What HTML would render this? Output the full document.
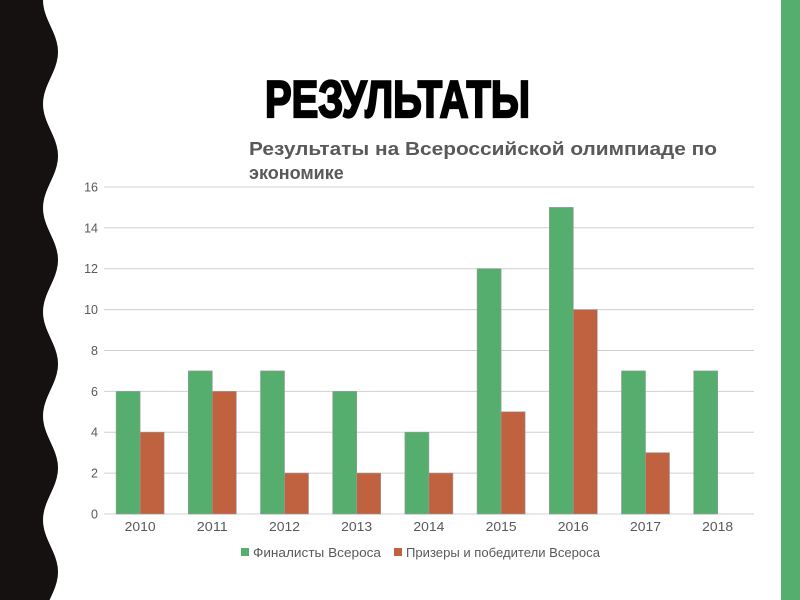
<!DOCTYPE html>
<html><head><meta charset="utf-8"><style>
html,body{margin:0;padding:0;background:#fff;width:800px;height:600px;overflow:hidden}
</style></head><body>
<svg width="800" height="600" xmlns="http://www.w3.org/2000/svg" font-family="Liberation Sans, sans-serif">
<rect width="800" height="600" fill="#fff"/>
<path id="wave" fill="#141110" d=""/>
<rect x="781" y="0" width="19" height="600" fill="#55ae6e"/>
<text x="265" y="117" font-size="52" font-weight="bold" textLength="265" lengthAdjust="spacingAndGlyphs" fill="#000" stroke="#000" stroke-width="2.2">РЕЗУЛЬТАТЫ</text>
<text x="249" y="155" font-size="18" font-weight="bold" fill="#595959" textLength="468" lengthAdjust="spacingAndGlyphs">Результаты на Всероссийской олимпиаде по</text>
<text x="249" y="179" font-size="18" font-weight="bold" fill="#595959">экономике</text>
<g id="grid" stroke="#d0d0d0" stroke-width="1"></g>
<g id="bars" stroke="#9a9a9a" stroke-width="0.6"></g>
<g id="labels" font-size="12.5" fill="#595959"></g>
<rect x="241" y="548" width="8" height="8" fill="#55ae6e"/>
<text x="253" y="557" font-size="12.5" fill="#595959" textLength="128" lengthAdjust="spacingAndGlyphs">Финалисты Всероса</text>
<rect x="394" y="548" width="8" height="8" fill="#c0623f"/>
<text x="406" y="557" font-size="12.5" fill="#595959" textLength="194" lengthAdjust="spacingAndGlyphs">Призеры и победители Всероса</text>
</svg>
<script>
var ns="http://www.w3.org/2000/svg";
function el(p,t,a,txt){var e=document.createElementNS(ns,t);for(var k in a)e.setAttribute(k,a[k]);if(txt!==undefined)e.textContent=txt;document.getElementById(p).appendChild(e);}
var d="M0 0 L43 0";
for(var y=0;y<=600;y+=2){var x=50.5-7.5*Math.cos((y)/104*2*Math.PI);d+=" L"+x.toFixed(1)+" "+y;}
d+=" L0 600 Z";document.getElementById("wave").setAttribute("d",d);
var y0=514,u=20.44,x0=104,cw=72.2;
for(var i=0;i<=8;i++){var yy=y0-2*i*u;el("grid","line",{x1:x0,x2:754,y1:yy.toFixed(1),y2:yy.toFixed(1)});
el("labels","text",{x:98,y:(yy+4.5).toFixed(1),"text-anchor":"end"},String(2*i));}
var g=[6,7,7,6,4,12,15,7,7],o=[4,6,2,2,2,5,10,3,0];
for(var i=0;i<9;i++){var c=x0+cw*(i+0.5);
el("bars","rect",{x:(c-24).toFixed(1),y:(y0-g[i]*u).toFixed(1),width:24,height:(g[i]*u).toFixed(1),fill:"#55ae6e"});
if(o[i])el("bars","rect",{x:c.toFixed(1),y:(y0-o[i]*u).toFixed(1),width:24,height:(o[i]*u).toFixed(1),fill:"#c0623f"});
el("labels","text",{x:c.toFixed(1),y:531,"text-anchor":"middle","textLength":31,"lengthAdjust":"spacingAndGlyphs"},String(2010+i));}
</script>
</body></html>
